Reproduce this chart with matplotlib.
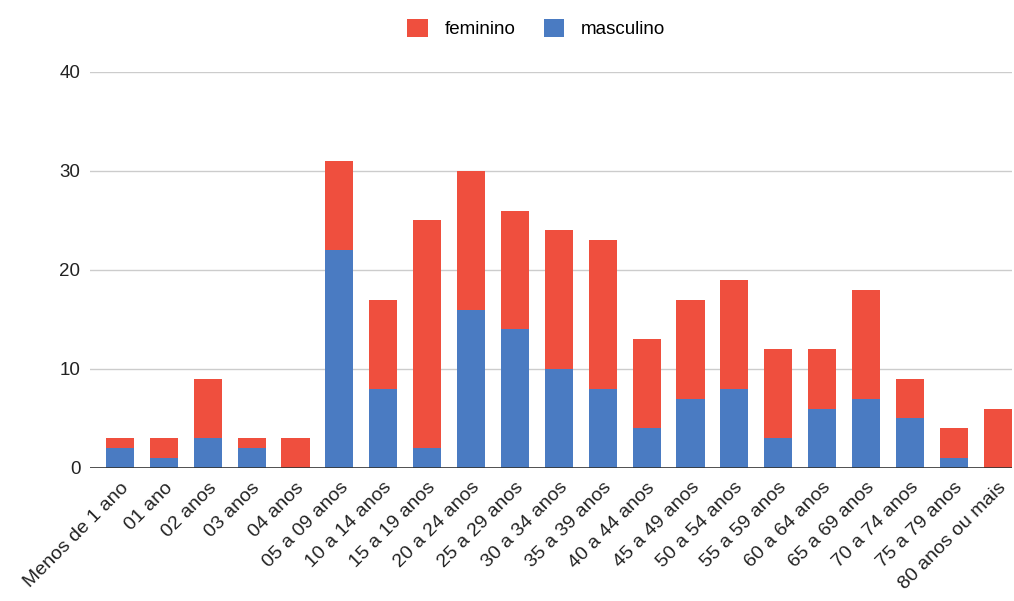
import matplotlib
matplotlib.use("Agg")
import matplotlib.pyplot as plt
import numpy as np

plt.rcParams['font.family'] = ['Liberation Sans', 'DejaVu Sans']

faixas = ['Menos de 1 ano', '01 ano', '02 anos', '03 anos', '04 anos',
	'05 a 09 anos', '10 a 14 anos', '15 a 19 anos', '20 a 24 anos',
	'25 a 29 anos', '30 a 34 anos', '35 a 39 anos', '40 a 44 anos',
	'45 a 49 anos', '50 a 54 anos', '55 a 59 anos', '60 a 64 anos',
	'65 a 69 anos', '70 a 74 anos', '75 a 79 anos', '80 anos ou mais']
masculino = [2, 1, 3, 2, 0, 22, 8, 2, 16, 14, 10, 8, 4, 7, 8, 3, 6, 7, 5, 1, 0]
feminino = [1, 2, 6, 1, 3, 9, 9, 23, 14, 12, 14, 15, 9, 10, 11, 9, 6, 11, 4, 3, 6]

cor_fem = '#EF4F3E'
cor_masc = '#4A7BC2'

fig = plt.figure(figsize=(10.14, 6.01), dpi=100)
ax = fig.add_axes([0.0888, 0.2213, 0.909, 0.6589])

x = np.arange(len(faixas))
ax.bar(x, masculino, width=0.64, color=cor_masc, label='masculino', zorder=3)
ax.bar(x, feminino, width=0.64, bottom=masculino, color=cor_fem, label='feminino', zorder=3)

ax.set_ylim(0, 40)
ax.set_xlim(-0.68, 20.32)
ax.set_yticks([0, 10, 20, 30, 40])
ax.yaxis.grid(True, color='#cccccc', linewidth=1, zorder=0)
ax.axhline(0, color='#333333', linewidth=1.2, zorder=4)
for s in ax.spines.values():
	s.set_visible(False)
ax.tick_params(axis='both', length=0, colors='#222222')
ax.tick_params(axis='y', pad=7, labelsize=13.5)
ax.set_xticks(x)
ax.set_xticklabels(faixas, rotation=45, ha='right', rotation_mode='anchor')
ax.tick_params(axis='x', pad=8, labelsize=14)

h, l = ax.get_legend_handles_labels()
fig.legend(h[::-1], l[::-1], loc='center', bbox_to_anchor=(0.529, 0.953), ncol=2,
	frameon=False, fontsize=13.5, handlelength=1.1, handleheight=1.1, columnspacing=1.5,
	handletextpad=0.9)

fig.savefig('out.png', dpi=100)
